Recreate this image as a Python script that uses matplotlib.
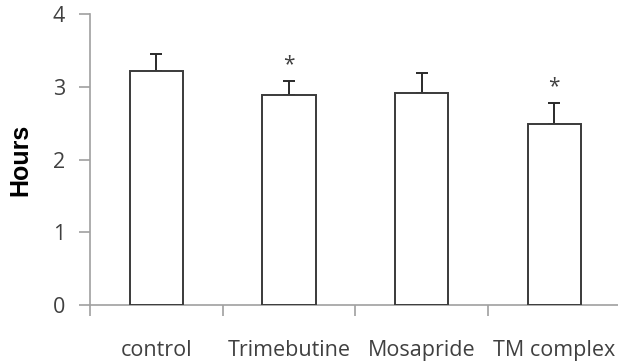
import matplotlib
matplotlib.use("Agg")
import matplotlib.pyplot as plt
import numpy as np

categories = ["control", "Trimebutine", "Mosapride", "TM complex"]
means = [3.22, 2.89, 2.91, 2.49]
errors = [0.23, 0.19, 0.28, 0.29]
significant = [False, True, False, True]
yticks = [0, 1, 2, 3, 4]

plt.rcParams['font.family'] = ['Open Sans', 'DejaVu Sans']

fig = plt.figure(figsize=(6.18, 3.62), dpi=100)
ax = fig.add_axes([90/618, 57/362, 1 - 90/618, (305-14)/362])

x = np.arange(len(categories))
ax.bar(x, means, width=0.4, color='white', edgecolor='#3a3a3a', linewidth=1.4, zorder=3)
ax.errorbar(x, means, yerr=[np.zeros(len(errors)), errors], fmt='none',
            ecolor='#2a2a2a', elinewidth=1.4, capsize=4, capthick=1.4, zorder=2)

for xi, m, e, s in zip(x, means, errors, significant):
    if s:
        ax.text(xi, m + e + 0.08, '*', ha='center', va='bottom', fontsize=15, color='#404040')

ax.set_ylim(0, 4)
ax.set_xlim(-0.5, 3.48)
ax.set_yticks(yticks)
ax.set_yticklabels([str(t) for t in yticks], fontsize=15.5, color='#404040')
ax.set_xticks([-0.5, 0.5, 1.5, 2.5])
ax.set_xticklabels([])
ax.set_xticks(x, minor=True)
ax.set_xticklabels(categories, minor=True, fontsize=15.5, color='#404040')
ax.tick_params(axis='x', which='minor', length=0, pad=25)
ax.tick_params(axis='x', which='major', length=8, color='#a0a0a0', width=1.2, direction='out')
ax.tick_params(axis='y', length=8, color='#a0a0a0', width=1.2, direction='out', pad=10)

for side in ['top', 'right']:
    ax.spines[side].set_visible(False)
for side in ['left', 'bottom']:
    ax.spines[side].set_color('#a0a0a0')
    ax.spines[side].set_linewidth(1.2)

ax.set_ylabel('Hours', fontsize=18, fontweight='bold', family=['Liberation Sans', 'DejaVu Sans'])
ax.yaxis.set_label_coords(-58/528, 0.5)

fig.savefig('out.png', dpi=100)
